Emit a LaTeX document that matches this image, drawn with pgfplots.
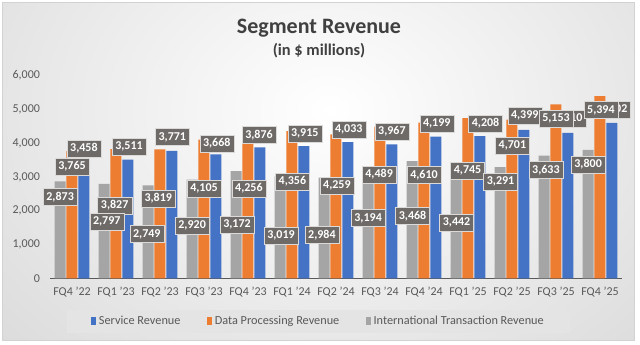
\documentclass[border=0pt]{standalone}
\usepackage{fontspec}
\setmainfont{Carlito}
\usepackage{pgfplots}
\pgfplotsset{compat=1.18}
\usepackage{pgfplotstable}

\definecolor{sblue}{HTML}{4472C4}
\definecolor{sorange}{HTML}{ED7D31}
\definecolor{sgray}{HTML}{A5A5A5}
\definecolor{lblbox}{RGB}{110,106,103}
\definecolor{tickc}{HTML}{595959}
\definecolor{ttl}{HTML}{404040}
\definecolor{legbg}{HTML}{E4E4E4}
\definecolor{bgout}{HTML}{BDBDBD}
\definecolor{axisc}{HTML}{5A5A5A}

\pgfplotstableread{
x service data intl
0 3458 3765 2873
1 3511 3827 2797
2 3771 3819 2749
3 3668 4105 2920
4 3876 4256 3172
5 3915 4356 3019
6 4033 4259 2984
7 3967 4489 3194
8 4199 4610 3468
9 4208 4745 3442
10 4399 4701 3291
11 4310 5153 3633
12 4602 5394 3800
}\revdata

\pgfplotstableread{
x y label
0.27 3850 3,458
1.295 3909 3,511
2.28 4184 3,771
3.29 3998 3,668
4.25 4252 3,876
5.29 4294 3,915
6.29 4415 4,033
7.27 4342 3,967
8.29 4575 4,199
9.40 4590 4,208
10.29 4811 4,399
11.29 4727 4,310
12.31 5007 4,602
}\svclabels

\pgfplotstableread{
x y label
0.00 3310 3,765
0.97 2156 3,827
1.96 2369 3,819
3.00 2665 4,105
4.02 2665 4,256
5.01 2875 4,356
6.02 2739 4,259
6.98 3083 4,489
8.00 3059 4,610
8.99 3183 4,745
10.01 3923 4,701
11.00 4727 5,153
12.02 4984 5,394
}\datalabels

\pgfplotstableread{
x y label
-0.27 2416 2,873
0.79 1688 2,797
1.70 1312 2,749
2.73 1570 2,920
3.75 1593 3,172
4.75 1258 3,019
5.68 1291 2,984
6.73 1786 3,194
7.74 1851 3,468
8.74 1643 3,442
9.74 2861 3,291
10.77 3207 3,633
11.73 3370 3,800
}\intllabels

\begin{document}
\begin{tikzpicture}
\useasboundingbox (0,0) rectangle (480pt,258pt);
\fill[white] (0,0) rectangle (480pt,258pt);
\begin{scope}
\clip (1.5pt,3pt) rectangle (475.5pt,256.5pt);
\shade[inner color=white, outer color=bgout] (-382.5pt,-304.5pt) rectangle (877.5pt,655.5pt);
\end{scope}
\draw[gray!35, line width=0.6pt] (1.5pt,3pt) rectangle (475.5pt,256.5pt);

\node[font=\bfseries\fontsize{16.5}{20}\selectfont, text=ttl, anchor=base] at (239.25pt,232.9pt) {Segment Revenue};
\node[font=\bfseries\fontsize{12.3}{15}\selectfont, text=ttl, anchor=base] at (239.25pt,216.75pt) {(in \$ millions)};

\begin{axis}[
  at={(37.5pt,49.275pt)}, anchor=south west,
  scale only axis, width=429pt, height=151.95pt,
  xmin=-0.5, xmax=12.5, ymin=0, ymax=6000,
  axis x line=bottom, axis y line=left,
  x axis line style={draw=axisc, line width=1pt, -},
  y axis line style={draw=none},
  xtick={0,...,12},
  xticklabels={FQ4 '22, FQ1 '23, FQ2 '23, FQ3 '23, FQ4 '23, FQ1 '24, FQ2 '24, FQ3 '24, FQ4 '24, FQ1 '25, FQ2 '25, FQ3 '25, FQ4 '25},
  ytick={0,1000,2000,3000,4000,5000,6000},
  major tick length=0pt,
  tick label style={font=\fontsize{9}{11}\selectfont, text=tickc},
  xticklabel style={yshift=-3pt},
  yticklabel style={xshift=-4pt},
  scaled y ticks=false,
  /pgf/number format/1000 sep={,},
  /pgf/number format/assume math mode=true,
  clip=false,
  legend columns=3,
  legend cell align=left,
  legend style={at={(0.47,-0.213)}, anchor=center, draw=none, fill=legbg,
    font=\fontsize{9.2}{11}\selectfont, text=tickc, inner xsep=18pt, inner ysep=3pt,
    /tikz/every even column/.append style={column sep=18pt}},
  lbl/.style={only marks, mark=*, mark options={draw=none, fill=none},
    nodes near coords, point meta=explicit symbolic,
    every node near coord/.style={anchor=center, fill=lblbox, text=white,
      font=\bfseries\fontsize{9}{10}\selectfont, inner xsep=2.5pt, inner ysep=0pt,
      minimum height=12.75pt, draw=white!75!lblbox, line width=0.3pt}},
]
\addplot[ybar, bar width=0.25, bar shift=0.27, fill=sblue, draw=none,
  legend image code/.code={\fill[sblue] (0pt,-3pt) rectangle (3.75pt,3pt);}]
  table[x=x, y=service] {\revdata};
\addlegendentry{Service Revenue}
\addplot[ybar, bar width=0.25, bar shift=0, fill=sorange, draw=none,
  legend image code/.code={\fill[sorange] (0pt,-3pt) rectangle (3.75pt,3pt);}]
  table[x=x, y=data] {\revdata};
\addlegendentry{Data Processing Revenue}
\addplot[ybar, bar width=0.25, bar shift=-0.27, fill=sgray, draw=none,
  legend image code/.code={\fill[sgray] (0pt,-3pt) rectangle (3.75pt,3pt);}]
  table[x=x, y=intl] {\revdata};
\addlegendentry{International Transaction Revenue}

\addplot[lbl, forget plot] table[x=x, y=y, meta=label] {\svclabels};
\addplot[lbl, forget plot] table[x=x, y=y, meta=label] {\datalabels};
\addplot[lbl, forget plot] table[x=x, y=y, meta=label] {\intllabels};
\end{axis}
\end{tikzpicture}
\end{document}
